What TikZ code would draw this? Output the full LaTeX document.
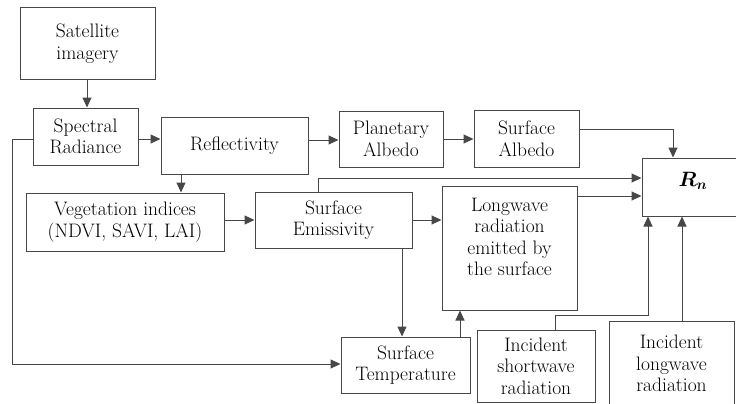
\documentclass[tikz,border=0pt]{standalone}
\usepackage{bm}
\usetikzlibrary{arrows.meta}
\tikzset{
  box/.style={draw=black!72, line width=1pt, rectangle, inner sep=2pt, align=center,
    font=\rmfamily\fontsize{19.5}{21.5}\selectfont, text=black},
  txt/.style={inner sep=0pt, align=center, font=\rmfamily\fontsize{19.5}{21.5}\selectfont, text=black},
  conn/.style={draw=black!72, line width=1pt},
  arr/.style={conn, -{Triangle[length=10pt,width=9pt]}}
}
\begin{document}
\begin{tikzpicture}[x=1pt,y=-1pt]
\fill[white] (0,0) rectangle (736,404);
\useasboundingbox (0,0) rectangle (736,404);
% boxes
\node[box, minimum width=135pt, minimum height=71pt] (sat) at (87.5,43.5) {Satellite\\imagery};
\node[box, minimum width=105pt, minimum height=57pt] (spec) at (85.5,136.5) {Spectral\\Radiance};
\node[box, minimum width=147pt, minimum height=57pt] (refl) at (234.5,145.5) {Reflectivity};
\node[box, minimum width=104pt, minimum height=56pt] (plan) at (391,139) {Planetary\\Albedo};
\node[box, minimum width=105pt, minimum height=57pt] (salb) at (526.5,138.5) {Surface\\Albedo};
\node[box, minimum width=103pt, minimum height=58pt] (rn) at (693.5,187) {};
\node[txt] (rntxt) at (693,181) {$\bm{R_n}$};
\node[box, minimum width=198pt, minimum height=58pt] (veg) at (125,222) {Vegetation indices\\(NDVI, SAVI, LAI)};
\node[box, minimum width=157pt, minimum height=56pt] (emis) at (333.5,220) {Surface\\Emissivity};
\node[box, minimum width=135pt, minimum height=124pt] (long) at (509.5,248) {};
\node[txt] (longtxt) at (509.5,237) {Longwave\\radiation\\emitted by\\the surface};
\node[box, minimum width=129pt, minimum height=56pt] (temp) at (405.5,365) {Surface\\Temperature};
\node[box, minimum width=118pt, minimum height=72pt] (short) at (536,366) {Incident\\shortwave\\radiation};
\node[box, minimum width=125pt, minimum height=85pt] (ilong) at (671.5,363.5) {Incident\\longwave\\radiation};
% connectors
\draw[arr] (sat.south -| 87,0) -- (spec.north -| 87,0);
\draw[arr] (spec.east |- 0,139) -- (refl.west |- 0,139);
\draw[arr] (refl.east |- 0,140) -- (plan.west |- 0,140);
\draw[arr] (plan.east |- 0,139) -- (salb.west |- 0,139);
\draw[arr] (salb.east |- 0,129) -| (rn.north -| 673,0);
\draw[arr] (refl.south -| 181,0) -- (veg.north -| 181,0);
\draw[arr] (veg.east |- 0,220) -- (emis.west |- 0,220);
\draw[arr] (emis.east |- 0,220) -- (long.west |- 0,220);
\draw[arr] (emis.north -| 318,0) |- (rn.west |- 0,178);
\draw[arr] (long.east |- 0,196) -- (rn.west |- 0,196);
\draw[arr] (emis.south -| 402,0) -- (temp.north -| 402,0);
\coordinate (lbend) at (12,139);
\draw[arr] (spec.west |- 0,139) -- (lbend) |- (temp.west |- 0,364);
\draw[arr] (temp.north -| 460,0) -- (long.south -| 460,0);
\coordinate (sbend) at (555,315);
\draw[arr] (short.north -| 555,0) -- (sbend) -| (rn.south -| 648,0);
\draw[arr] (ilong.north -| 682,0) -- (rn.south -| 682,0);
\end{tikzpicture}
\end{document}
